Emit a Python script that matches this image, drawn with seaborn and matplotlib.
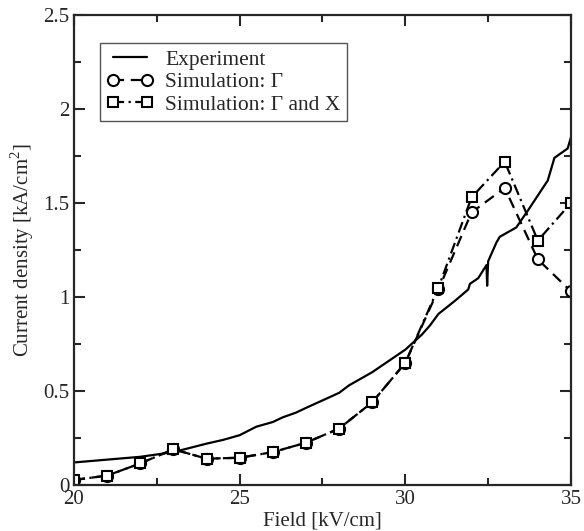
import seaborn as sns
import matplotlib.pyplot as plt
from matplotlib.ticker import MultipleLocator, FormatStrFormatter

# simulation points
field = [20, 21, 22, 23, 24, 25, 26, 27, 28, 29, 30, 31, 32, 33, 34, 35]
sim_gamma = [0.027, 0.05, 0.115, 0.19, 0.14, 0.145, 0.175, 0.225, 0.30, 0.44, 0.65, 1.04, 1.45, 1.58, 1.20, 1.03]
sim_gamma_x = [0.027, 0.05, 0.115, 0.19, 0.14, 0.145, 0.175, 0.225, 0.30, 0.44, 0.65, 1.05, 1.53, 1.72, 1.30, 1.50]

# measured curve
exp_x = [20, 21, 22, 23, 24, 24.5, 25, 25.5, 26, 26.3, 26.7, 27, 27.5, 28, 28.3, 28.6,
         29, 29.5, 30, 30.5, 30.75, 31, 31.5, 31.9, 31.95, 32.2, 32.45, 32.47, 32.5,
         32.75, 32.85, 33.35, 33.7, 34.3, 34.5, 34.9, 35]
exp_y = [0.12, 0.135, 0.15, 0.175, 0.22, 0.24, 0.265, 0.31, 0.335, 0.36, 0.385, 0.41, 0.45, 0.49, 0.53, 0.56,
         0.60, 0.66, 0.72, 0.80, 0.85, 0.91, 0.98, 1.04, 1.07, 1.10, 1.17, 1.06, 1.19,
         1.29, 1.32, 1.37, 1.46, 1.62, 1.74, 1.79, 1.85]

sns.set_style("ticks")
plt.rcParams['font.family'] = ['Liberation Serif', 'DejaVu Serif']
plt.rcParams['mathtext.fontset'] = 'custom'
plt.rcParams['mathtext.rm'] = 'Liberation Serif'

fig = plt.figure(figsize=(5.84, 5.31), dpi=100)
ax = fig.add_axes([0.1267, 0.0866, 0.851, 0.8852])

sns.lineplot(x=exp_x, y=exp_y, ax=ax, color="black", linewidth=1.6,
             label="Experiment", sort=False)
sns.lineplot(x=field, y=sim_gamma, ax=ax, color="black", linewidth=1.6,
             linestyle=(0, (5, 3)), marker="o", markersize=8,
             markerfacecolor="white", markeredgecolor="black", markeredgewidth=1.5,
             label="Simulation: \u0393")
sns.lineplot(x=field, y=sim_gamma_x, ax=ax, color="black", linewidth=1.6,
             linestyle=(0, (5, 2, 1, 2)), marker="s", markersize=7,
             markerfacecolor="white", markeredgecolor="black", markeredgewidth=1.5,
             label="Simulation: \u0393 and X")

ax.set_xlim(20, 35)
ax.set_ylim(0, 2.5)
ax.xaxis.set_major_locator(MultipleLocator(5))
ax.xaxis.set_minor_locator(MultipleLocator(2.5))
ax.yaxis.set_major_locator(MultipleLocator(0.5))
ax.yaxis.set_minor_locator(MultipleLocator(0.25))
ax.yaxis.set_major_formatter(FormatStrFormatter("%g"))
ax.xaxis.set_major_formatter(FormatStrFormatter("%g"))
ax.tick_params(which="both", direction="in", top=True, right=True, width=1.5, labelsize=15)
ax.tick_params(which="major", length=8)
ax.tick_params(which="minor", length=5)
for s in ax.spines.values():
    s.set_linewidth(1.6)

ax.set_xlabel("Field [kV/cm]", fontsize=15, labelpad=2)
ax.set_ylabel("Current density [kA/cm$^2$]", fontsize=15, labelpad=5)

leg = ax.legend(loc="upper left", bbox_to_anchor=(0.052, 0.94), borderaxespad=0,
                numpoints=2, fontsize=15.5, handlelength=2.2, handletextpad=0.55,
                labelspacing=0.12, borderpad=0.3, fancybox=False, framealpha=1,
                edgecolor="#555555")
leg.get_frame().set_linewidth(1.0)

plt.savefig("out.png", dpi=100)
